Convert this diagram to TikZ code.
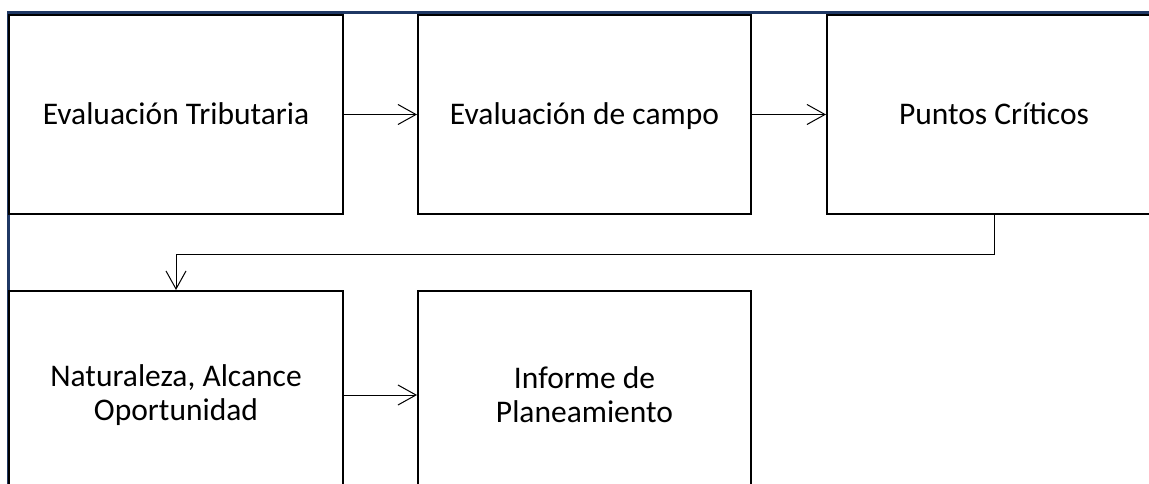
\documentclass[tikz,border=0pt]{standalone}
\usepackage{fontspec}
\setmainfont{Carlito}
\usetikzlibrary{arrows.meta}
\definecolor{framenavy}{HTML}{1F3864}
\begin{document}
\begin{tikzpicture}[x=1pt,y=-1pt,
  stepbox/.style={draw=black,line width=2pt,fill=white,inner sep=0pt,align=center,
    font=\fontsize{31.5}{34}\selectfont},
  oneline/.style={stepbox,text height=23pt,text depth=2pt},
  flow/.style={line width=1pt,-{Straight Barb[length=18pt,width=20pt,line width=1pt]}}]
 \useasboundingbox (0,0) rectangle (1149,484);
 \clip (0,0) rectangle (1149,484);
 \draw[framenavy,line width=3pt] (8.5,484) -- (8.5,13) -- (1149,13);
 \node (evtrib) at (176,114.5) [oneline,minimum width=334pt,minimum height=199pt] {Evaluación Tributaria};
 \node (evcampo) at (584.5,114.5) [oneline,minimum width=333pt,minimum height=199pt] {Evaluación de campo};
 \node (puntos) at (994,114.5) [oneline,minimum width=334pt,minimum height=199pt] {Puntos Críticos};
 \node (natur) at (176,395) [stepbox,minimum width=334pt,minimum height=208pt] {Naturaleza, Alcance\\Oportunidad};
 \node (informe) at (584.5,395) [stepbox,minimum width=333pt,minimum height=208pt] {Informe de\\Planeamiento};
 \draw[flow] (evtrib) -- (evcampo);
 \draw[flow] (evcampo) -- (puntos);
 \draw[flow] (puntos.south) -- ++(0,39) -| (natur.north);
 \draw[flow] (natur) -- (informe);
\end{tikzpicture}
\end{document}
